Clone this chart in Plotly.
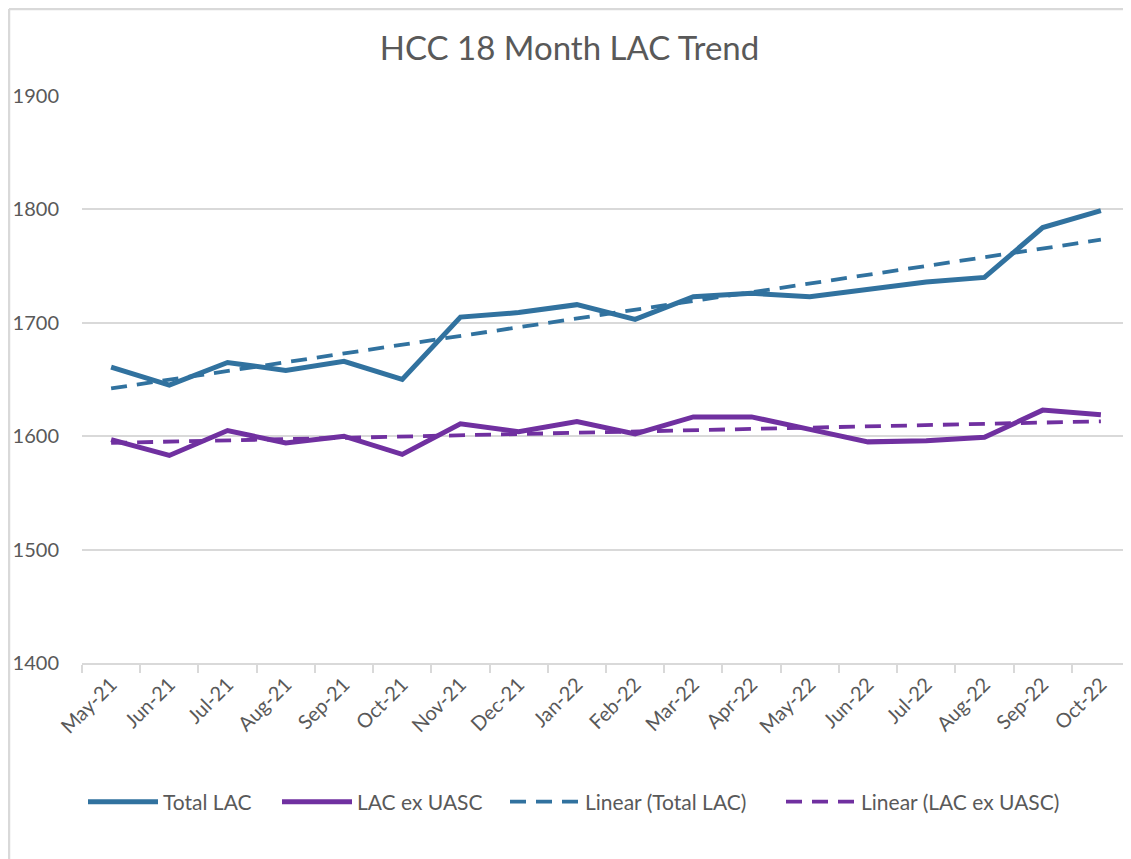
import numpy as np
import plotly.graph_objects as go

months = ["May-21", "Jun-21", "Jul-21", "Aug-21", "Sep-21", "Oct-21", "Nov-21", "Dec-21", "Jan-22",
          "Feb-22", "Mar-22", "Apr-22", "May-22", "Jun-22", "Jul-22", "Aug-22", "Sep-22", "Oct-22"]
total_lac = [1661, 1645, 1665, 1658, 1666, 1650, 1705, 1709, 1716, 1703, 1723, 1726, 1723, 1729, 1736, 1740, 1784, 1799]
lac_ex_uasc = [1597, 1583, 1605, 1594, 1600, 1584, 1611, 1604, 1613, 1602, 1617, 1617, 1606, 1595, 1596, 1599, 1623, 1619]

BLUE = "#31729F"
PURPLE = "#7030A0"
GRID = "#D9D9D9"
TEXT = "#595959"
FONT = "Lato"

idx = np.arange(len(months))
def trend(vals):
    m, c = np.polyfit(idx, vals, 1)
    return (m * idx + c).tolist()

fig = go.Figure()
fig.add_trace(go.Scatter(x=months, y=total_lac, mode="lines", name="Total LAC", legend="legend",
                         line=dict(color=BLUE, width=5)))
fig.add_trace(go.Scatter(x=months, y=lac_ex_uasc, mode="lines", name="LAC ex UASC", legend="legend2",
                         line=dict(color=PURPLE, width=5)))
fig.add_trace(go.Scatter(x=months, y=trend(total_lac), mode="lines", name="Linear (Total LAC)", legend="legend3",
                         line=dict(color=BLUE, width=3.8, dash="16px,10px")))
fig.add_trace(go.Scatter(x=months, y=trend(lac_ex_uasc), mode="lines", name="Linear (LAC ex UASC)", legend="legend4",
                         line=dict(color=PURPLE, width=3.8, dash="16px,10px")))

W, H = 1123, 851
L, R, T, B = 74, 1, 88, 196
PW, PH = W - L - R, H - T - B

def leg(px):
    return dict(orientation="h", x=(px - L) / PW, xanchor="left", y=-(794 - 655) / PH, yanchor="middle",
                font=dict(size=21, color=TEXT, family=FONT), itemwidth=70, bgcolor="rgba(0,0,0,0)")

fig.update_layout(
    width=W, height=H,
    paper_bgcolor="white", plot_bgcolor="white",
    margin=dict(l=L, r=R, t=T, b=B),
    font=dict(family=FONT, color=TEXT),
    title=dict(text="HCC 18 Month LAC Trend", x=0.5, xanchor="center", y=1 - 40 / H, yanchor="middle",
               font=dict(size=33, color=TEXT, family=FONT)),
    legend=leg(75), legend2=leg(269), legend3=leg(497), legend4=leg(773),
    showlegend=True,
)
fig.update_xaxes(type="category", tickangle=-45, tickfont=dict(size=20, color=TEXT, family=FONT),
                 showline=True, linecolor=GRID, linewidth=2, ticks="outside",
                 tickson="boundaries", ticklen=8, tickcolor=GRID, tickwidth=2, showgrid=False,
                 range=[-0.5, len(months) - 0.5])
fig.update_yaxes(range=[1400, 1900], dtick=100, tickfont=dict(size=20, color=TEXT, family=FONT),
                 showgrid=True, gridcolor=GRID, gridwidth=2, zeroline=False,
                 showline=False, ticklabelstandoff=22)
# chart border (top and left edges, as in the reference)
fig.add_shape(type="line", xref="paper", yref="paper", x0=-(L - 1) / PW, x1=1 + R / PW,
              y0=1 + (T - 1) / PH, y1=1 + (T - 1) / PH, line=dict(color=GRID, width=2.5))
fig.add_shape(type="line", xref="paper", yref="paper", x0=-(L - 1) / PW, x1=-(L - 1) / PW,
              y0=-B / PH, y1=1 + (T - 1) / PH, line=dict(color=GRID, width=2.5))
fig.write_html("out.html")
